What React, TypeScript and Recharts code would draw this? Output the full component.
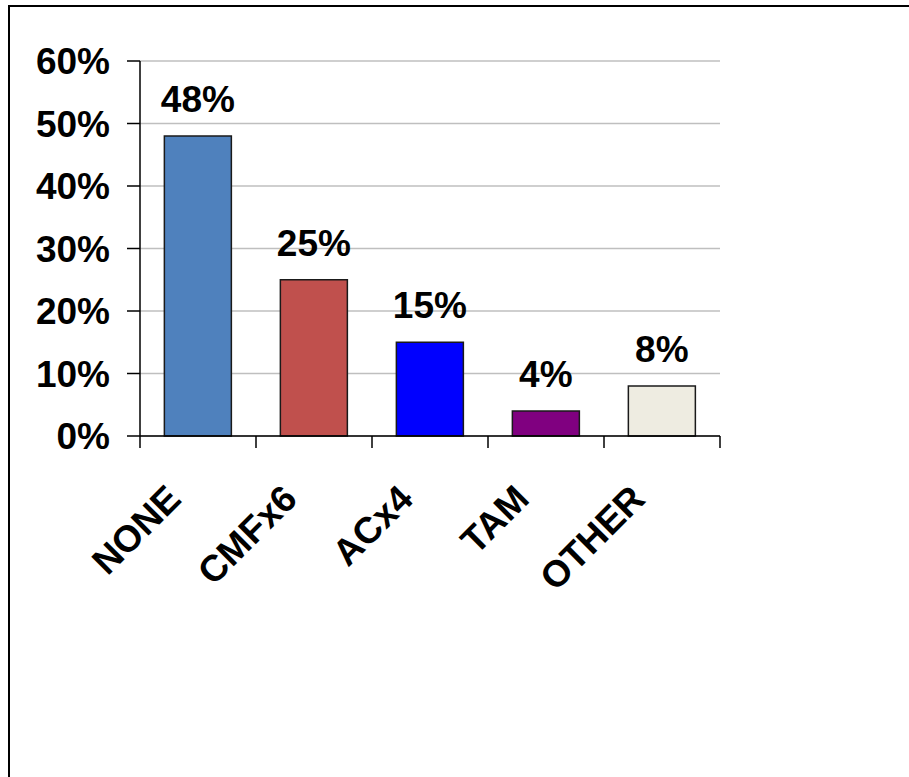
import { Bar, BarChart, CartesianGrid, Cell, LabelList, XAxis, YAxis } from 'recharts'

const categories = ['NONE', 'CMFx6', 'ACx4', 'TAM', 'OTHER']
const shares = [48, 25, 15, 4, 8]
const barColors = ['#4F81BD', '#C0504D', '#0000FF', '#800080', '#EEECE1']
const yTicks = [0, 10, 20, 30, 40, 50, 60]

const data = categories.map((name, i) => ({ name, share: shares[i] }))

const FONT = '"Liberation Sans", Arial, sans-serif'
const FONT_SIZE = 37

// Rotated label plus tick marks on the category boundaries (Excel style)
function CategoryTick(props: any) {
  const { x, y, payload, index, visibleTicksCount } = props
  const half = payload.offset ?? 0
  const ax = x - 15
  const ay = y + 65
  const isLast = index === visibleTicksCount - 1
  return (
    <g>
      <line x1={x - half} y1={y} x2={x - half} y2={y + 12} stroke="#000" strokeWidth={1.5} />
      {isLast && <line x1={x + half} y1={y} x2={x + half} y2={y + 12} stroke="#000" strokeWidth={1.5} />}
      <text
        x={ax}
        y={ay}
        transform={`rotate(-45, ${ax}, ${ay})`}
        textAnchor="end"
        fill="#000"
        fontFamily={FONT}
        fontWeight="bold"
        fontSize={FONT_SIZE}
      >
        {payload.value}
      </text>
    </g>
  )
}

export default function App() {
  return (
    <div style={{ position: 'absolute', left: 0, top: 0, width: 909, height: 777, background: '#fff' }}>
      <div
        style={{
          position: 'absolute',
          left: 8,
          top: 5,
          width: 920,
          height: 800,
          borderLeft: '2px solid #000',
          borderTop: '2px solid #000',
        }}
      />
      <div style={{ position: 'absolute', left: 0, top: 0 }}>
        <BarChart
          width={909}
          height={777}
          data={data}
          margin={{ top: 61, right: 189, left: 10, bottom: 221 }}
          barCategoryGap="21%"
        >
          <CartesianGrid vertical={false} stroke="#BFBFBF" strokeWidth={1.5} />
          <XAxis
            dataKey="name"
            height={120}
            axisLine={{ stroke: '#000', strokeWidth: 1.5 }}
            tickLine={false}
            tickSize={0}
            tickMargin={0}
            interval={0}
            tick={<CategoryTick />}
          />
          <YAxis
            domain={[0, 60]}
            ticks={yTicks}
            width={130}
            tickSize={13}
            tickMargin={17}
            tickFormatter={(v: number) => `${v}%`}
            axisLine={{ stroke: '#000', strokeWidth: 1.5 }}
            tickLine={{ stroke: '#000', strokeWidth: 1.5 }}
            tick={{ fill: '#000', fontFamily: FONT, fontWeight: 'bold', fontSize: FONT_SIZE }}
          />
          <Bar dataKey="share" stroke="#1a1a1a" strokeWidth={1.5} isAnimationActive={false}>
            {data.map((d, i) => (
              <Cell key={d.name} fill={barColors[i]} />
            ))}
            <LabelList
              dataKey="share"
              position="top"
              offset={24}
              formatter={(v: any) => `${v}%`}
              fill="#000"
              fontFamily={FONT}
              fontWeight="bold"
              fontSize={FONT_SIZE}
            />
          </Bar>
        </BarChart>
      </div>
    </div>
  )
}
